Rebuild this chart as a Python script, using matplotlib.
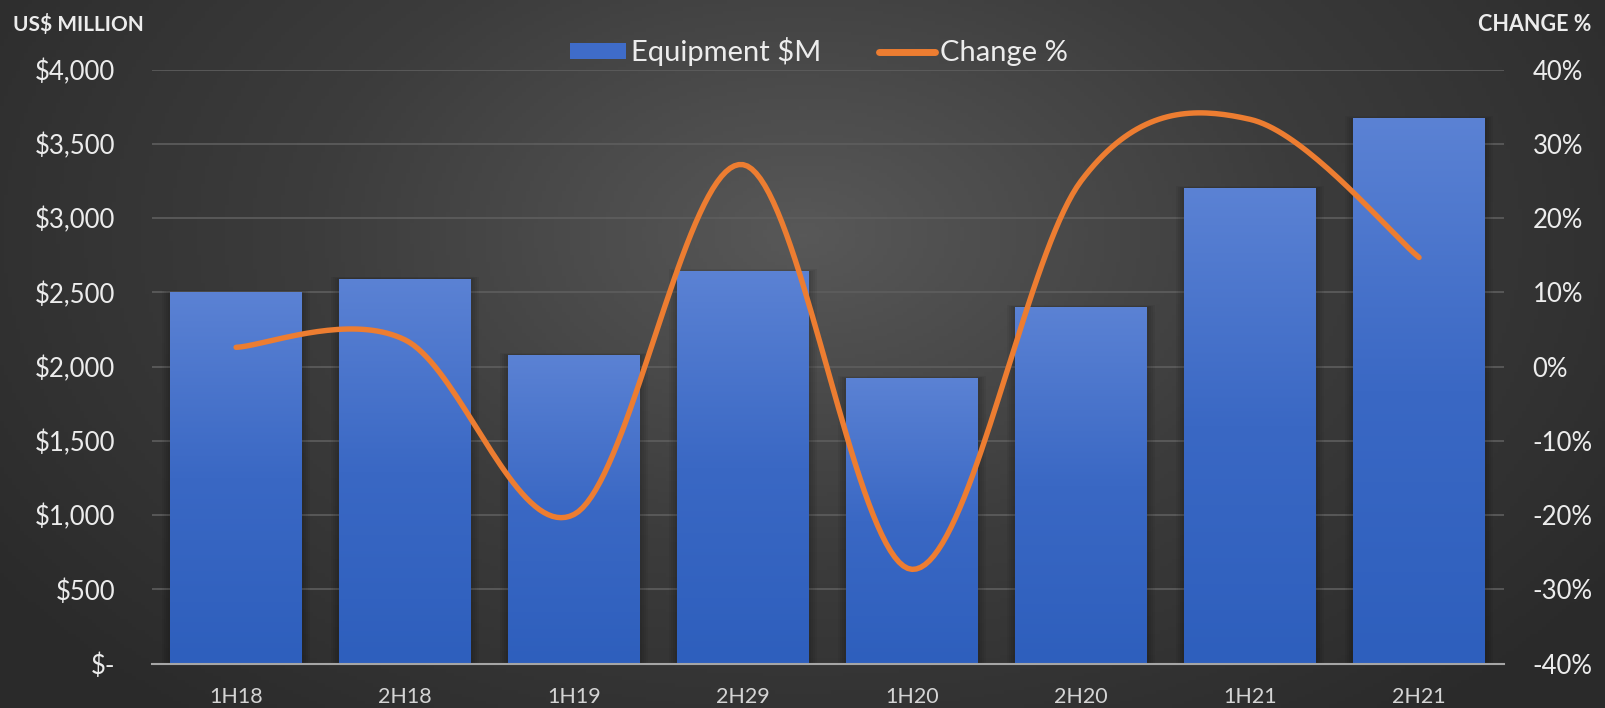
import numpy as np
import matplotlib.pyplot as plt
from matplotlib.colors import LinearSegmentedColormap
from matplotlib.lines import Line2D
from matplotlib.patches import Patch, Rectangle

periods = ['1H18', '2H18', '1H19', '2H29', '1H20', '2H20', '1H21', '2H21']
equipment = [2500, 2590, 2075, 2640, 1920, 2400, 3200, 3670]
change_pct = [2.6, 3.6, -19.9, 27.2, -27.3, 25.0, 33.3, 14.7]

left_ticks = [0, 500, 1000, 1500, 2000, 2500, 3000, 3500, 4000]
left_labels = ['$-', '$500', '$1,000', '$1,500', '$2,000', '$2,500', '$3,000', '$3,500', '$4,000']
right_ticks = [-40, -30, -20, -10, 0, 10, 20, 30, 40]

plt.rcParams['font.family'] = ['Lato', 'DejaVu Sans']
txt = '#ececec'


def smooth(xs, ys, n=40):
    # Bezier smoothing with Catmull-Rom tangents, same idea as spreadsheet "smoothed line"
    xs = np.asarray(xs, float)
    ys = np.asarray(ys, float)
    px = np.concatenate([[xs[0]], xs, [xs[-1]]])
    py = np.concatenate([[ys[0]], ys, [ys[-1]]])
    ox, oy = [], []
    t = np.linspace(0, 1, n)
    for i in range(1, len(px) - 2):
        p0 = np.array([px[i], py[i]])
        p3 = np.array([px[i + 1], py[i + 1]])
        c1 = p0 + (np.array([px[i + 1], py[i + 1]]) - np.array([px[i - 1], py[i - 1]])) / 6
        c2 = p3 - (np.array([px[i + 2], py[i + 2]]) - np.array([px[i], py[i]])) / 6
        b = ((1 - t) ** 3)[:, None] * p0 + (3 * (1 - t) ** 2 * t)[:, None] * c1 \
            + (3 * (1 - t) * t ** 2)[:, None] * c2 + (t ** 3)[:, None] * p3
        ox.extend(b[:, 0])
        oy.extend(b[:, 1])
    return np.array(ox), np.array(oy)


fig = plt.figure(figsize=(16.06, 7.08), dpi=100)

# radial dark background
bg = fig.add_axes([0, 0, 1, 1])
gx, gy = np.meshgrid(np.linspace(0, 1, 400), np.linspace(0, 1, 200))
r = np.sqrt(((gx - 0.5) / 0.62) ** 2 + ((gy - 0.33) / 0.9) ** 2)
shade = np.clip(1 - r, 0, 1)
bg_cmap = LinearSegmentedColormap.from_list('bg', ['#2a2a2a', '#3c3c3c', '#585858'])
bg.imshow(shade, cmap=bg_cmap, extent=[0, 1, 1, 0], aspect='auto', vmin=0, vmax=1)
bg.set_xlim(0, 1)
bg.set_ylim(1, 0)
bg.axis('off')

ax = fig.add_axes([0.0944, 0.0626, 0.8418, 0.8391])
ax.patch.set_alpha(0)
x = np.arange(len(periods))

for yv in left_ticks[1:]:
    ax.axhline(yv, color='#5e5e5e', lw=1.2, zorder=0)

bar_cmap = LinearSegmentedColormap.from_list('bar', ['#2e5fbd', '#3a68c4', '#5b82d4'])
grad = np.linspace(0, 1, 256)[:, None]
w = 0.78
for xi, v in zip(x, equipment):
    # soft shadow around each bar
    for k in range(4):
        pad = 0.012 * (k + 1)
        ax.add_patch(Rectangle((xi - w / 2 - pad, 0), w + 2 * pad, v + pad * 300,
                               color='black', alpha=0.05, lw=0, zorder=1))
    ax.imshow(grad, cmap=bar_cmap, origin='lower', aspect='auto',
              extent=[xi - w / 2, xi + w / 2, 0, v], zorder=2)
ax.set_xlim(-0.5, len(periods) - 0.5)
ax.set_ylim(0, 4000)

ax.set_yticks(left_ticks)
ax.set_yticklabels(left_labels)
ax.set_xticks(x)
ax.set_xticklabels(periods)
ax.tick_params(axis='y', length=0, pad=26, labelsize=18.5, labelcolor=txt)
ax.tick_params(axis='x', length=0, pad=17, labelsize=15.5, labelcolor='#d4d4d4')
for s in ['top', 'right', 'left']:
    ax.spines[s].set_visible(False)
ax.spines['bottom'].set_color('#a6a6a6')
ax.spines['bottom'].set_linewidth(1.5)
ax.spines['bottom'].set_zorder(5)

ax2 = ax.twinx()
ax2.set_ylim(-40, 40)
sx, sy = smooth(x, change_pct)
ax2.plot(sx, sy, color='#ed7d31', lw=3.9, solid_capstyle='round', zorder=4)
ax2.set_yticks(right_ticks)
ax2.set_yticklabels([f'{t}%' for t in right_ticks])
ax2.tick_params(axis='y', length=0, pad=21, labelsize=18.5, labelcolor=txt)
for s in ax2.spines.values():
    s.set_visible(False)

fig.text(0.008, 0.966, 'US$ MILLION', fontsize=15, fontweight='bold', color=txt, va='center')
fig.text(0.991, 0.966, 'CHANGE %', fontsize=15.5, fontweight='bold', color=txt, va='center', ha='right')

handles = [Patch(facecolor='#3f6cc9', edgecolor='none'),
           Line2D([0], [0], color='#ed7d31', lw=5, solid_capstyle='round')]
fig.legend(handles, ['Equipment $M', 'Change %'], loc='center', bbox_to_anchor=(0.51, 0.927),
           ncol=2, frameon=False, fontsize=21, labelcolor=txt, handlelength=1.9,
           handleheight=0.5, handletextpad=0.17, columnspacing=2.0)

fig.savefig('out.png', dpi=100, facecolor='#2a2a2a')
